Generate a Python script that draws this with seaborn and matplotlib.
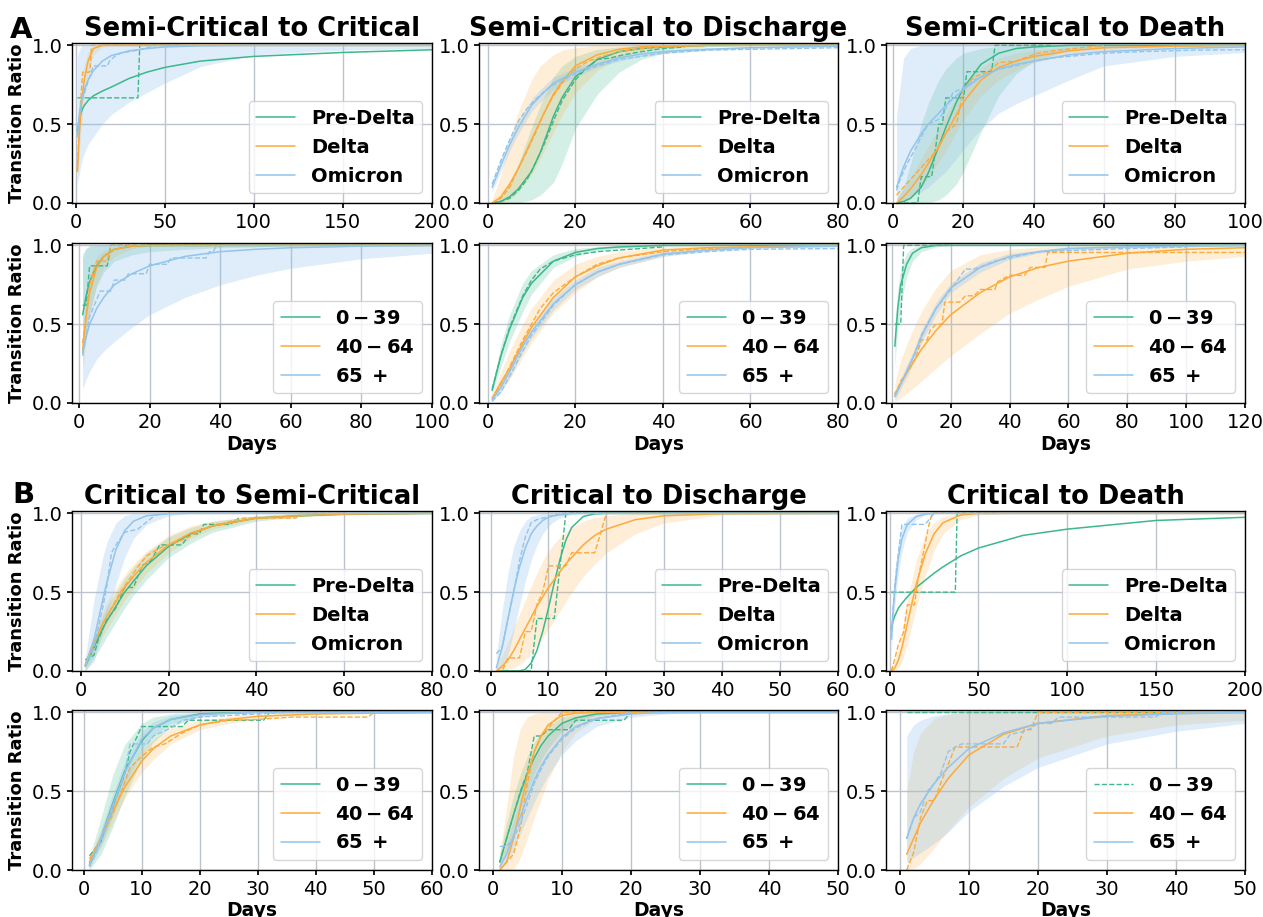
import matplotlib
matplotlib.use("Agg")
import matplotlib.pyplot as plt
from matplotlib.ticker import MultipleLocator
import seaborn as sns

# ---------------- text ----------------
titles_top = ["Semi-Critical to Critical", "Semi-Critical to Discharge", "Semi-Critical to Death"]
titles_bottom = ["Critical to Semi-Critical", "Critical to Discharge", "Critical to Death"]
variant_labels = ["Pre-Delta", "Delta", "Omicron"]
age_labels = [r"$\mathbf{0-39}$", r"$\mathbf{40-64}$", r"$\mathbf{65\;+}$"]
y_ticks = [0.0, 0.5, 1.0]
x_max = [200, 80, 100, 100, 80, 120, 80, 60, 200, 60, 50, 50]
x_step = [50, 20, 20, 20, 20, 20, 20, 10, 50, 10, 10, 10]

# ---------------- Panel 1: Semi-Critical to Critical (variants) ----------------
p1_days = [1, 2, 3, 4, 5, 7, 10, 15, 20, 30, 40, 50, 70, 100, 150, 200]
p1_fit_g = [0.46, 0.53, 0.57, 0.60, 0.62, 0.65, 0.68, 0.71, 0.735, 0.79, 0.83, 0.86, 0.90, 0.93, 0.955, 0.972]
p1_fit_o = [0.20, 0.42, 0.58, 0.70, 0.79, 0.90, 0.98, 1.0, 1.0, 1.0, 1.0, 1.0, 1.0, 1.0, 1.0, 1.0]
p1_fit_b = [0.42, 0.55, 0.63, 0.68, 0.72, 0.78, 0.84, 0.90, 0.935, 0.965, 0.98, 0.99, 0.997, 1.0, 1.0, 1.0]
p1_lo_o = [0.12, 0.30, 0.45, 0.57, 0.67, 0.82, 0.94, 0.99, 1.0, 1.0, 1.0, 1.0, 1.0, 1.0, 1.0, 1.0]
p1_hi_o = [0.30, 0.55, 0.70, 0.80, 0.88, 0.96, 0.995, 1.0, 1.0, 1.0, 1.0, 1.0, 1.0, 1.0, 1.0, 1.0]
p1_lo_b = [0.12, 0.18, 0.24, 0.29, 0.32, 0.37, 0.42, 0.50, 0.56, 0.64, 0.70, 0.76, 0.865, 0.94, 0.97, 0.98]
p1_hi_b = [0.93, 0.97, 0.99, 1.0, 1.0, 1.0, 1.0, 1.0, 1.0, 1.0, 1.0, 1.0, 1.0, 1.0, 1.0, 1.0]
p1_emp_g_x = [1, 35, 36, 60]
p1_emp_g_y = [0.667, 0.667, 1.0, 1.0]
p1_emp_o_x = [1, 2, 3, 4, 8, 9, 40]
p1_emp_o_y = [0.2, 0.5, 0.67, 0.83, 0.83, 1.0, 1.0]
p1_emp_b_x = [1, 2, 3, 5, 7, 10, 18, 19, 22, 25, 35, 45]
p1_emp_b_y = [0.42, 0.55, 0.62, 0.70, 0.77, 0.87, 0.87, 0.90, 0.93, 0.95, 0.97, 1.0]

# ---------------- Panel 2: Semi-Critical to Discharge (variants) ----------------
p2_days = [1, 3, 5, 7, 10, 12, 15, 17, 20, 25, 30, 35, 40, 50, 60, 80]
p2_fit_g = [0.0, 0.01, 0.04, 0.09, 0.20, 0.32, 0.55, 0.67, 0.80, 0.91, 0.96, 0.98, 0.99, 1.0, 1.0, 1.0]
p2_lo_g = [0.0, 0.0, 0.0, 0.0, 0.02, 0.05, 0.13, 0.25, 0.47, 0.69, 0.83, 0.91, 0.95, 0.99, 1.0, 1.0]
p2_hi_g = [0.0, 0.04, 0.12, 0.25, 0.48, 0.62, 0.80, 0.87, 0.93, 0.975, 0.99, 1.0, 1.0, 1.0, 1.0, 1.0]
p2_fit_o = [0.0, 0.04, 0.12, 0.22, 0.40, 0.52, 0.69, 0.77, 0.87, 0.94, 0.975, 0.99, 0.995, 1.0, 1.0, 1.0]
p2_lo_o = [0.0, 0.0, 0.02, 0.07, 0.18, 0.28, 0.45, 0.56, 0.70, 0.84, 0.92, 0.96, 0.98, 1.0, 1.0, 1.0]
p2_hi_o = [0.02, 0.18, 0.40, 0.58, 0.78, 0.87, 0.94, 0.97, 0.985, 1.0, 1.0, 1.0, 1.0, 1.0, 1.0, 1.0]
p2_fit_b = [0.10, 0.24, 0.37, 0.48, 0.62, 0.68, 0.76, 0.79, 0.83, 0.88, 0.92, 0.945, 0.96, 0.975, 0.985, 0.995]
p2_lo_b = [0.07, 0.20, 0.33, 0.44, 0.58, 0.64, 0.72, 0.76, 0.80, 0.86, 0.90, 0.93, 0.95, 0.965, 0.98, 0.99]
p2_hi_b = [0.13, 0.28, 0.41, 0.52, 0.66, 0.72, 0.80, 0.82, 0.86, 0.90, 0.94, 0.96, 0.97, 0.985, 0.99, 1.0]
p2_emp_g_x = [1, 3, 5, 7, 9, 11, 13, 15, 17, 20, 22, 25, 28, 31, 35, 40, 45]
p2_emp_g_y = [0.0, 0.01, 0.03, 0.08, 0.15, 0.26, 0.38, 0.52, 0.65, 0.78, 0.84, 0.91, 0.92, 0.94, 0.96, 0.98, 0.99]
p2_emp_o_x = [1, 3, 5, 7, 9, 11, 13, 15, 18, 20, 23, 26, 30, 35, 40, 50]
p2_emp_o_y = [0.0, 0.03, 0.10, 0.22, 0.33, 0.45, 0.58, 0.68, 0.80, 0.85, 0.90, 0.93, 0.96, 0.98, 0.99, 1.0]
p2_emp_b_x = [1, 3, 5, 7, 9, 11, 13, 15, 18, 20, 25, 30, 35, 40, 50, 60, 80]
p2_emp_b_y = [0.12, 0.27, 0.40, 0.52, 0.60, 0.66, 0.71, 0.75, 0.79, 0.82, 0.87, 0.91, 0.93, 0.95, 0.97, 0.975, 0.985]

# ---------------- Panel 3: Semi-Critical to Death (variants) ----------------
p3_days = [1, 3, 5, 8, 10, 13, 15, 18, 20, 25, 30, 35, 40, 50, 60, 80, 100]
p3_fit_g = [0.0, 0.01, 0.03, 0.10, 0.19, 0.36, 0.48, 0.64, 0.73, 0.88, 0.95, 0.98, 0.99, 1.0, 1.0, 1.0, 1.0]
p3_lo_g = [0.0, 0.0, 0.0, 0.0, 0.0, 0.02, 0.05, 0.12, 0.20, 0.45, 0.68, 0.82, 0.90, 0.97, 0.99, 1.0, 1.0]
p3_hi_g = [0.02, 0.10, 0.25, 0.50, 0.63, 0.78, 0.85, 0.92, 0.95, 0.98, 0.995, 1.0, 1.0, 1.0, 1.0, 1.0, 1.0]
p3_fit_o = [0.0, 0.04, 0.09, 0.18, 0.25, 0.36, 0.44, 0.56, 0.64, 0.78, 0.86, 0.90, 0.93, 0.965, 0.985, 0.995, 1.0]
p3_lo_o = [0.0, 0.01, 0.04, 0.10, 0.16, 0.26, 0.33, 0.45, 0.53, 0.68, 0.78, 0.84, 0.89, 0.94, 0.97, 0.99, 1.0]
p3_hi_o = [0.03, 0.09, 0.16, 0.28, 0.36, 0.48, 0.56, 0.67, 0.74, 0.86, 0.92, 0.95, 0.97, 0.99, 1.0, 1.0, 1.0]
p3_fit_b = [0.10, 0.23, 0.33, 0.44, 0.50, 0.57, 0.62, 0.68, 0.72, 0.80, 0.85, 0.88, 0.90, 0.94, 0.96, 0.98, 0.99]
p3_lo_b = [0.0, 0.02, 0.04, 0.07, 0.10, 0.16, 0.20, 0.28, 0.34, 0.47, 0.57, 0.63, 0.68, 0.78, 0.87, 0.93, 0.955]
p3_hi_b = [0.55, 0.92, 0.98, 1.0, 1.0, 1.0, 1.0, 1.0, 1.0, 1.0, 1.0, 1.0, 1.0, 1.0, 1.0, 1.0, 1.0]
p3_emp_g_x = [1, 7, 8, 11, 12, 13, 14, 15, 20, 21, 28, 29, 45]
p3_emp_g_y = [0.0, 0.0, 0.167, 0.167, 0.333, 0.5, 0.5, 0.667, 0.667, 0.833, 0.833, 1.0, 1.0]
p3_emp_o_x = [1, 3, 5, 7, 9, 11, 13, 15, 18, 20, 23, 27, 30, 35, 41, 47, 60]
p3_emp_o_y = [0.05, 0.10, 0.15, 0.20, 0.25, 0.30, 0.35, 0.45, 0.50, 0.72, 0.80, 0.83, 0.89, 0.90, 0.95, 0.97, 1.0]
p3_emp_b_x = [1, 2, 4, 6, 8, 10, 13, 15, 17, 20, 23, 27, 30, 35, 40, 45, 50, 60, 70, 86, 100]
p3_emp_b_y = [0.08, 0.15, 0.25, 0.33, 0.42, 0.50, 0.53, 0.60, 0.70, 0.73, 0.78, 0.82, 0.85, 0.87, 0.90, 0.92, 0.93, 0.95, 0.96, 0.97, 0.972]

# ---------------- Panel 4: Semi-Critical to Critical (age) ----------------
p4_days = [1, 2, 3, 5, 7, 10, 15, 20, 30, 40, 50, 60, 80, 100]
p4_fit_g = [0.56, 0.68, 0.77, 0.87, 0.93, 0.975, 0.995, 1.0, 1.0, 1.0, 1.0, 1.0, 1.0, 1.0]
p4_lo_g = [0.28, 0.45, 0.58, 0.74, 0.83, 0.90, 0.94, 0.96, 0.975, 0.985, 0.99, 1.0, 1.0, 1.0]
p4_hi_g = [0.92, 0.98, 1.0, 1.0, 1.0, 1.0, 1.0, 1.0, 1.0, 1.0, 1.0, 1.0, 1.0, 1.0]
p4_fit_o = [0.33, 0.55, 0.70, 0.86, 0.93, 0.975, 0.995, 1.0, 1.0, 1.0, 1.0, 1.0, 1.0, 1.0]
p4_lo_o = [0.20, 0.40, 0.55, 0.75, 0.86, 0.93, 0.98, 0.995, 1.0, 1.0, 1.0, 1.0, 1.0, 1.0]
p4_hi_o = [0.45, 0.68, 0.82, 0.93, 0.97, 0.99, 1.0, 1.0, 1.0, 1.0, 1.0, 1.0, 1.0, 1.0]
p4_fit_b = [0.32, 0.42, 0.50, 0.60, 0.67, 0.75, 0.82, 0.87, 0.93, 0.96, 0.975, 0.985, 0.995, 1.0]
p4_lo_b = [0.09, 0.15, 0.20, 0.28, 0.33, 0.39, 0.48, 0.56, 0.67, 0.75, 0.81, 0.855, 0.915, 0.95]
p4_hi_b = [0.95, 0.98, 0.99, 1.0, 1.0, 1.0, 1.0, 1.0, 1.0, 1.0, 1.0, 1.0, 1.0, 1.0]
p4_emp_g_x = [1, 2, 3, 8, 9, 40]
p4_emp_g_y = [0.62, 0.62, 0.87, 0.87, 1.0, 1.0]
p4_emp_o_x = [1, 2, 3, 5, 8, 9, 40]
p4_emp_o_y = [0.38, 0.55, 0.75, 0.90, 0.90, 1.0, 1.0]
p4_emp_b_x = [1, 3, 6, 9, 10, 13, 14, 19, 20, 25, 26, 36, 37, 38, 39, 60]
p4_emp_b_y = [0.30, 0.55, 0.71, 0.71, 0.78, 0.78, 0.82, 0.82, 0.88, 0.88, 0.92, 0.92, 0.96, 0.96, 1.0, 1.0]

# ---------------- Panel 5: Semi-Critical to Discharge (age) ----------------
p5_days = [1, 3, 5, 8, 10, 15, 20, 25, 30, 40, 50, 60, 80]
p5_fit_g = [0.08, 0.30, 0.47, 0.67, 0.76, 0.90, 0.955, 0.98, 0.99, 1.0, 1.0, 1.0, 1.0]
p5_lo_g = [0.06, 0.23, 0.39, 0.58, 0.69, 0.86, 0.93, 0.965, 0.98, 0.995, 1.0, 1.0, 1.0]
p5_hi_g = [0.11, 0.37, 0.56, 0.76, 0.84, 0.94, 0.98, 0.99, 1.0, 1.0, 1.0, 1.0, 1.0]
p5_fit_o = [0.03, 0.13, 0.22, 0.38, 0.48, 0.67, 0.80, 0.87, 0.92, 0.97, 0.985, 0.99, 1.0]
p5_lo_o = [0.02, 0.08, 0.15, 0.29, 0.38, 0.57, 0.70, 0.80, 0.86, 0.93, 0.97, 0.985, 1.0]
p5_hi_o = [0.05, 0.20, 0.33, 0.50, 0.60, 0.78, 0.88, 0.93, 0.96, 0.99, 1.0, 1.0, 1.0]
p5_fit_b = [0.02, 0.10, 0.20, 0.36, 0.45, 0.63, 0.75, 0.83, 0.88, 0.945, 0.97, 0.985, 0.995]
p5_lo_b = [0.01, 0.07, 0.16, 0.32, 0.41, 0.59, 0.72, 0.80, 0.86, 0.93, 0.96, 0.98, 0.99]
p5_hi_b = [0.03, 0.13, 0.24, 0.40, 0.49, 0.67, 0.78, 0.86, 0.90, 0.96, 0.98, 0.99, 1.0]
p5_emp_g_x = [1, 3, 5, 8, 10, 12, 15, 20, 25, 30, 40]
p5_emp_g_y = [0.09, 0.30, 0.48, 0.68, 0.78, 0.85, 0.90, 0.94, 0.96, 0.97, 0.99]
p5_emp_o_x = [1, 3, 5, 8, 10, 12, 15, 20, 25, 30, 40, 50, 60]
p5_emp_o_y = [0.03, 0.12, 0.23, 0.40, 0.50, 0.60, 0.70, 0.80, 0.88, 0.92, 0.96, 0.98, 0.99]
p5_emp_b_x = [1, 3, 5, 8, 10, 15, 20, 25, 30, 40, 50, 60, 80]
p5_emp_b_y = [0.01, 0.07, 0.17, 0.33, 0.43, 0.62, 0.75, 0.83, 0.88, 0.94, 0.96, 0.975, 0.98]

# ---------------- Panel 6: Semi-Critical to Death (age) ----------------
p6_days = [1, 2, 3, 5, 7, 10, 15, 20, 30, 40, 50, 60, 80, 100, 120]
p6_fit_g = [0.36, 0.60, 0.75, 0.88, 0.95, 0.985, 1.0, 1.0, 1.0, 1.0, 1.0, 1.0, 1.0, 1.0, 1.0]
p6_lo_g = [0.24, 0.47, 0.62, 0.80, 0.90, 0.96, 0.99, 1.0, 1.0, 1.0, 1.0, 1.0, 1.0, 1.0, 1.0]
p6_hi_g = [0.50, 0.72, 0.85, 0.95, 0.985, 1.0, 1.0, 1.0, 1.0, 1.0, 1.0, 1.0, 1.0, 1.0, 1.0]
p6_fit_o = [0.06, 0.09, 0.12, 0.19, 0.25, 0.34, 0.46, 0.56, 0.70, 0.80, 0.86, 0.90, 0.95, 0.975, 0.985]
p6_lo_o = [0.01, 0.02, 0.03, 0.06, 0.09, 0.14, 0.22, 0.30, 0.44, 0.57, 0.66, 0.74, 0.85, 0.90, 0.93]
p6_hi_o = [0.12, 0.20, 0.27, 0.37, 0.46, 0.58, 0.73, 0.84, 0.94, 0.975, 0.99, 0.995, 1.0, 1.0, 1.0]
p6_fit_b = [0.04, 0.08, 0.12, 0.20, 0.28, 0.42, 0.60, 0.73, 0.86, 0.93, 0.96, 0.98, 0.99, 0.995, 1.0]
p6_lo_b = [0.02, 0.05, 0.09, 0.16, 0.24, 0.38, 0.56, 0.70, 0.83, 0.91, 0.95, 0.97, 0.985, 0.99, 0.995]
p6_hi_b = [0.06, 0.11, 0.15, 0.24, 0.32, 0.46, 0.64, 0.76, 0.89, 0.95, 0.97, 0.99, 1.0, 1.0, 1.0]
p6_emp_g_x = [1, 3, 4, 20]
p6_emp_g_y = [0.5, 0.5, 1.0, 1.0]
p6_emp_o_x = [1, 3, 5, 8, 10, 12, 13, 15, 17, 18, 23, 25, 28, 30, 35, 36, 40, 45, 47, 52, 53, 120]
p6_emp_o_y = [0.05, 0.14, 0.19, 0.28, 0.40, 0.40, 0.46, 0.50, 0.50, 0.64, 0.64, 0.68, 0.68, 0.72, 0.72, 0.77, 0.81, 0.81, 0.86, 0.86, 0.955, 0.955]
p6_emp_b_x = [1, 3, 5, 8, 10, 15, 20, 25, 28, 35, 40, 50, 80, 100]
p6_emp_b_y = [0.04, 0.12, 0.20, 0.32, 0.43, 0.60, 0.72, 0.85, 0.85, 0.90, 0.92, 0.96, 0.98, 0.99]

# ---------------- Panel 7: Critical to Semi-Critical (variants) ----------------
p7_days = [1, 3, 5, 6, 8, 10, 12, 15, 20, 25, 30, 40, 50, 60, 80]
p7_fit_g = [0.03, 0.15, 0.27, 0.32, 0.41, 0.50, 0.57, 0.67, 0.79, 0.87, 0.92, 0.97, 0.985, 0.995, 1.0]
p7_lo_g = [0.0, 0.08, 0.17, 0.22, 0.31, 0.40, 0.48, 0.58, 0.72, 0.81, 0.88, 0.95, 0.98, 0.99, 1.0]
p7_hi_g = [0.06, 0.22, 0.35, 0.41, 0.50, 0.59, 0.66, 0.75, 0.85, 0.91, 0.95, 0.985, 1.0, 1.0, 1.0]
p7_fit_o = [0.04, 0.17, 0.30, 0.35, 0.44, 0.53, 0.60, 0.69, 0.80, 0.875, 0.92, 0.97, 0.985, 0.995, 1.0]
p7_lo_o = [0.01, 0.11, 0.22, 0.27, 0.36, 0.45, 0.52, 0.62, 0.75, 0.84, 0.90, 0.96, 0.98, 0.99, 1.0]
p7_hi_o = [0.07, 0.23, 0.38, 0.44, 0.53, 0.61, 0.68, 0.76, 0.86, 0.92, 0.95, 0.985, 1.0, 1.0, 1.0]
p7_fit_b = [0.03, 0.20, 0.45, 0.57, 0.77, 0.89, 0.95, 0.985, 0.998, 1.0, 1.0, 1.0, 1.0, 1.0, 1.0]
p7_lo_b = [0.0, 0.06, 0.25, 0.35, 0.55, 0.72, 0.84, 0.93, 0.985, 1.0, 1.0, 1.0, 1.0, 1.0, 1.0]
p7_hi_b = [0.08, 0.45, 0.72, 0.82, 0.94, 0.985, 1.0, 1.0, 1.0, 1.0, 1.0, 1.0, 1.0, 1.0, 1.0]
p7_emp_g_x = [1, 3, 4, 6, 8, 10, 12, 14, 16, 18, 23, 25, 27, 28, 34, 36]
p7_emp_g_y = [0.07, 0.10, 0.20, 0.33, 0.40, 0.53, 0.53, 0.67, 0.70, 0.80, 0.80, 0.87, 0.87, 0.93, 0.93, 0.97]
p7_emp_o_x = [1, 3, 5, 7, 9, 11, 13, 15, 18, 20, 24, 27, 30, 37, 49, 50, 60]
p7_emp_o_y = [0.04, 0.18, 0.30, 0.40, 0.50, 0.58, 0.66, 0.73, 0.78, 0.80, 0.84, 0.89, 0.92, 0.97, 0.97, 1.0, 1.0]
p7_emp_b_x = [1, 3, 5, 6, 7, 8, 10, 13, 17, 20]
p7_emp_b_y = [0.03, 0.15, 0.40, 0.55, 0.75, 0.80, 0.88, 0.90, 0.99, 1.0]

# ---------------- Panel 8: Critical to Discharge (variants) ----------------
p8_days = [1, 2, 3, 4, 5, 6, 7, 8, 9, 10, 11, 12, 13, 14, 16, 18, 20, 25, 30, 40, 60]
p8_fit_g = [0.0, 0.0, 0.0, 0.0, 0.0, 0.01, 0.05, 0.13, 0.25, 0.40, 0.56, 0.71, 0.83, 0.91, 0.98, 0.997, 1.0, 1.0, 1.0, 1.0, 1.0]
p8_fit_o = [0.0, 0.03, 0.07, 0.13, 0.20, 0.27, 0.34, 0.41, 0.47, 0.53, 0.58, 0.63, 0.68, 0.72, 0.80, 0.86, 0.90, 0.96, 0.985, 0.998, 1.0]
p8_lo_o = [0.0, 0.0, 0.01, 0.02, 0.04, 0.07, 0.11, 0.16, 0.21, 0.27, 0.32, 0.38, 0.44, 0.50, 0.60, 0.68, 0.75, 0.87, 0.94, 0.99, 1.0]
p8_hi_o = [0.02, 0.10, 0.18, 0.27, 0.36, 0.45, 0.54, 0.62, 0.70, 0.76, 0.81, 0.85, 0.88, 0.91, 0.95, 0.975, 0.985, 1.0, 1.0, 1.0, 1.0]
p8_fit_b = [0.02, 0.15, 0.33, 0.51, 0.66, 0.78, 0.87, 0.92, 0.955, 0.975, 0.985, 0.99, 0.995, 1.0, 1.0, 1.0, 1.0, 1.0, 1.0, 1.0, 1.0]
p8_lo_b = [0.0, 0.02, 0.10, 0.25, 0.42, 0.57, 0.70, 0.80, 0.87, 0.92, 0.95, 0.97, 0.985, 0.99, 1.0, 1.0, 1.0, 1.0, 1.0, 1.0, 1.0]
p8_hi_b = [0.10, 0.38, 0.62, 0.79, 0.89, 0.95, 0.98, 0.99, 1.0, 1.0, 1.0, 1.0, 1.0, 1.0, 1.0, 1.0, 1.0, 1.0, 1.0, 1.0, 1.0]
p8_emp_g_x = [1, 7, 8, 11, 12, 13, 20]
p8_emp_g_y = [0.0, 0.0, 0.333, 0.333, 0.667, 1.0, 1.0]
p8_emp_o_x = [1, 2, 3, 5, 6, 7, 8, 9, 10, 13, 14, 18, 20, 30]
p8_emp_o_y = [0.0, 0.0, 0.083, 0.083, 0.25, 0.25, 0.42, 0.50, 0.667, 0.667, 0.75, 0.75, 1.0, 1.0]
p8_emp_b_x = [1, 2, 3, 4, 5, 6, 7, 8, 10, 12, 15]
p8_emp_b_y = [0.11, 0.15, 0.33, 0.50, 0.70, 0.85, 0.94, 0.96, 0.98, 1.0, 1.0]

# ---------------- Panel 9: Critical to Death (variants) ----------------
p9_days = [1, 2, 3, 5, 7, 10, 15, 20, 25, 30, 40, 50, 75, 100, 150, 200]
p9_fit_g = [0.27, 0.32, 0.35, 0.40, 0.43, 0.47, 0.53, 0.575, 0.62, 0.66, 0.73, 0.78, 0.86, 0.90, 0.955, 0.975]
p9_fit_o = [0.0, 0.01, 0.02, 0.07, 0.15, 0.30, 0.55, 0.74, 0.87, 0.94, 0.99, 1.0, 1.0, 1.0, 1.0, 1.0]
p9_lo_o = [0.0, 0.0, 0.0, 0.02, 0.06, 0.17, 0.40, 0.60, 0.76, 0.87, 0.96, 0.99, 1.0, 1.0, 1.0, 1.0]
p9_hi_o = [0.02, 0.04, 0.07, 0.15, 0.26, 0.45, 0.70, 0.86, 0.94, 0.98, 1.0, 1.0, 1.0, 1.0, 1.0, 1.0]
p9_fit_b = [0.20, 0.38, 0.52, 0.72, 0.84, 0.93, 0.98, 0.995, 1.0, 1.0, 1.0, 1.0, 1.0, 1.0, 1.0, 1.0]
p9_lo_b = [0.12, 0.28, 0.42, 0.62, 0.76, 0.88, 0.96, 0.99, 1.0, 1.0, 1.0, 1.0, 1.0, 1.0, 1.0, 1.0]
p9_hi_b = [0.30, 0.50, 0.64, 0.82, 0.91, 0.97, 0.995, 1.0, 1.0, 1.0, 1.0, 1.0, 1.0, 1.0, 1.0, 1.0]
p9_emp_g_x = [1, 37, 38, 60]
p9_emp_g_y = [0.5, 0.5, 1.0, 1.0]
p9_emp_o_x = [1, 3, 5, 8, 10, 14, 16, 19, 22, 24, 50]
p9_emp_o_y = [0.0, 0.08, 0.17, 0.25, 0.42, 0.42, 0.58, 0.75, 0.92, 1.0, 1.0]
p9_emp_b_x = [1, 2, 3, 5, 7, 20, 23, 25]
p9_emp_b_y = [0.20, 0.40, 0.55, 0.75, 0.93, 0.93, 0.97, 1.0]

# ---------------- Panel 10: Critical to Semi-Critical (age) ----------------
p10_days = [1, 3, 5, 7, 10, 12, 15, 20, 25, 30, 40, 60]
p10_fit_g = [0.03, 0.20, 0.42, 0.62, 0.82, 0.90, 0.955, 0.99, 0.997, 1.0, 1.0, 1.0]
p10_lo_g = [0.0, 0.10, 0.27, 0.46, 0.70, 0.81, 0.91, 0.97, 0.99, 1.0, 1.0, 1.0]
p10_hi_g = [0.08, 0.33, 0.60, 0.79, 0.93, 0.97, 0.99, 1.0, 1.0, 1.0, 1.0, 1.0]
p10_fit_o = [0.05, 0.20, 0.37, 0.52, 0.69, 0.77, 0.85, 0.92, 0.955, 0.975, 0.99, 1.0]
p10_lo_o = [0.03, 0.15, 0.30, 0.45, 0.62, 0.70, 0.80, 0.89, 0.93, 0.96, 0.985, 1.0]
p10_hi_o = [0.08, 0.25, 0.44, 0.59, 0.76, 0.83, 0.90, 0.95, 0.975, 0.99, 1.0, 1.0]
p10_fit_b = [0.03, 0.20, 0.41, 0.61, 0.83, 0.90, 0.955, 0.985, 0.995, 1.0, 1.0, 1.0]
p10_lo_b = [0.01, 0.15, 0.34, 0.53, 0.76, 0.85, 0.93, 0.97, 0.99, 1.0, 1.0, 1.0]
p10_hi_b = [0.05, 0.26, 0.48, 0.68, 0.88, 0.94, 0.98, 0.995, 1.0, 1.0, 1.0, 1.0]
p10_emp_g_x = [1, 3, 5, 7, 8, 10, 17, 18, 31, 32, 60]
p10_emp_g_y = [0.09, 0.18, 0.40, 0.60, 0.75, 0.91, 0.91, 0.95, 0.95, 1.0, 1.0]
p10_emp_o_x = [1, 3, 5, 7, 8, 10, 12, 14, 17, 20, 25, 30, 36, 49, 50, 60]
p10_emp_o_y = [0.07, 0.20, 0.35, 0.55, 0.65, 0.72, 0.78, 0.80, 0.87, 0.92, 0.95, 0.955, 0.97, 0.97, 1.0, 1.0]
p10_emp_b_x = [1, 3, 5, 7, 8, 11, 12, 15, 17, 20, 25, 30, 35]
p10_emp_b_y = [0.02, 0.18, 0.38, 0.60, 0.80, 0.80, 0.85, 0.90, 0.95, 0.97, 0.98, 0.99, 1.0]

# ---------------- Panel 11: Critical to Discharge (age) ----------------
p11_days = [1, 2, 3, 4, 5, 6, 7, 8, 10, 12, 15, 20, 25, 30, 50]
p11_fit_g = [0.05, 0.20, 0.35, 0.49, 0.61, 0.71, 0.79, 0.85, 0.93, 0.965, 0.99, 1.0, 1.0, 1.0, 1.0]
p11_lo_g = [0.02, 0.12, 0.25, 0.38, 0.50, 0.61, 0.70, 0.77, 0.88, 0.94, 0.98, 1.0, 1.0, 1.0, 1.0]
p11_hi_g = [0.10, 0.30, 0.47, 0.61, 0.72, 0.81, 0.87, 0.91, 0.97, 0.99, 1.0, 1.0, 1.0, 1.0, 1.0]
p11_fit_o = [0.0, 0.05, 0.20, 0.40, 0.60, 0.75, 0.85, 0.92, 0.98, 0.995, 1.0, 1.0, 1.0, 1.0, 1.0]
p11_lo_o = [0.0, 0.0, 0.0, 0.08, 0.20, 0.33, 0.45, 0.57, 0.75, 0.87, 0.96, 0.99, 1.0, 1.0, 1.0]
p11_hi_o = [0.10, 0.40, 0.72, 0.90, 0.97, 0.99, 1.0, 1.0, 1.0, 1.0, 1.0, 1.0, 1.0, 1.0, 1.0]
p11_fit_b = [0.02, 0.10, 0.22, 0.34, 0.46, 0.57, 0.66, 0.73, 0.84, 0.91, 0.96, 0.99, 1.0, 1.0, 1.0]
p11_lo_b = [0.0, 0.05, 0.13, 0.23, 0.33, 0.43, 0.52, 0.60, 0.73, 0.82, 0.91, 0.97, 0.99, 1.0, 1.0]
p11_hi_b = [0.05, 0.17, 0.32, 0.46, 0.59, 0.70, 0.78, 0.85, 0.93, 0.97, 0.99, 1.0, 1.0, 1.0, 1.0]
p11_emp_g_x = [1, 2, 3, 4, 5, 6, 7, 8, 11, 12, 19, 20, 30]
p11_emp_g_y = [0.05, 0.20, 0.35, 0.50, 0.62, 0.85, 0.85, 0.89, 0.89, 0.95, 0.95, 1.0, 1.0]
p11_emp_o_x = [1, 2, 3, 4, 5, 6, 7, 9, 10, 20]
p11_emp_o_y = [0.0, 0.05, 0.10, 0.27, 0.55, 0.75, 0.85, 0.95, 1.0, 1.0]
p11_emp_b_x = [1, 2, 3, 4, 5, 6, 7, 8, 10, 12, 15, 20]
p11_emp_b_y = [0.15, 0.15, 0.20, 0.30, 0.42, 0.55, 0.64, 0.72, 0.83, 0.90, 0.96, 1.0]

# ---------------- Panel 12: Critical to Death (age) ----------------
p12_days = [1, 2, 3, 5, 7, 10, 15, 20, 30, 40, 50]
p12_fit_o = [0.10, 0.20, 0.30, 0.45, 0.58, 0.73, 0.86, 0.93, 0.98, 0.995, 1.0]
p12_lo_o = [0.0, 0.01, 0.04, 0.14, 0.25, 0.40, 0.58, 0.71, 0.85, 0.92, 0.95]
p12_hi_o = [0.50, 0.75, 0.87, 0.96, 0.99, 1.0, 1.0, 1.0, 1.0, 1.0, 1.0]
p12_fit_b = [0.20, 0.33, 0.42, 0.55, 0.65, 0.77, 0.87, 0.93, 0.975, 0.99, 1.0]
p12_lo_b = [0.05, 0.08, 0.11, 0.17, 0.24, 0.37, 0.53, 0.65, 0.80, 0.88, 0.93]
p12_hi_b = [0.85, 0.92, 0.95, 0.98, 0.99, 1.0, 1.0, 1.0, 1.0, 1.0, 1.0]
p12_emp_g_x = [1, 50]
p12_emp_g_y = [1.0, 1.0]
p12_emp_o_x = [1, 2, 3, 4, 5, 6, 7, 8, 17, 18, 19, 20, 50]
p12_emp_o_y = [0.0, 0.11, 0.33, 0.44, 0.44, 0.56, 0.67, 0.78, 0.78, 0.89, 0.89, 1.0, 1.0]
p12_emp_b_x = [1, 2, 3, 4, 5, 6, 7, 8, 9, 15, 16, 18, 19, 20, 22, 23, 37, 38, 50]
p12_emp_b_y = [0.20, 0.33, 0.37, 0.50, 0.55, 0.62, 0.75, 0.78, 0.80, 0.80, 0.86, 0.88, 0.90, 0.93, 0.93, 0.97, 0.97, 1.0, 1.0]

# ---------------- styling ----------------
colors = ["#3cb88a", "#fdaa3a", "#92c4ec"]
band_alpha = [0.22, 0.2, 0.3]

sns.set_theme(style="whitegrid", rc={
    "axes.edgecolor": "black",
    "axes.linewidth": 1.0,
    "grid.color": "#bcc3cf",
    "grid.linewidth": 1.0,
    "xtick.bottom": True,
    "ytick.left": True,
    "xtick.color": "black",
    "ytick.color": "black",
    "text.color": "black",
    "axes.labelcolor": "black",
    "xtick.major.size": 3.5,
    "ytick.major.size": 3.5,
    "xtick.labelsize": 14,
    "ytick.labelsize": 14,
    "legend.frameon": True,
})
plt.rcParams["font.family"] = ["DejaVu Sans"]

panels = [
    (p1_days, [p1_fit_g, p1_fit_o, p1_fit_b], [None, p1_lo_o, p1_lo_b], [None, p1_hi_o, p1_hi_b],
     [(p1_emp_g_x, p1_emp_g_y), (p1_emp_o_x, p1_emp_o_y), (p1_emp_b_x, p1_emp_b_y)]),
    (p2_days, [p2_fit_g, p2_fit_o, p2_fit_b], [p2_lo_g, p2_lo_o, p2_lo_b], [p2_hi_g, p2_hi_o, p2_hi_b],
     [(p2_emp_g_x, p2_emp_g_y), (p2_emp_o_x, p2_emp_o_y), (p2_emp_b_x, p2_emp_b_y)]),
    (p3_days, [p3_fit_g, p3_fit_o, p3_fit_b], [p3_lo_g, p3_lo_o, p3_lo_b], [p3_hi_g, p3_hi_o, p3_hi_b],
     [(p3_emp_g_x, p3_emp_g_y), (p3_emp_o_x, p3_emp_o_y), (p3_emp_b_x, p3_emp_b_y)]),
    (p4_days, [p4_fit_g, p4_fit_o, p4_fit_b], [p4_lo_g, p4_lo_o, p4_lo_b], [p4_hi_g, p4_hi_o, p4_hi_b],
     [(p4_emp_g_x, p4_emp_g_y), (p4_emp_o_x, p4_emp_o_y), (p4_emp_b_x, p4_emp_b_y)]),
    (p5_days, [p5_fit_g, p5_fit_o, p5_fit_b], [p5_lo_g, p5_lo_o, p5_lo_b], [p5_hi_g, p5_hi_o, p5_hi_b],
     [(p5_emp_g_x, p5_emp_g_y), (p5_emp_o_x, p5_emp_o_y), (p5_emp_b_x, p5_emp_b_y)]),
    (p6_days, [p6_fit_g, p6_fit_o, p6_fit_b], [p6_lo_g, p6_lo_o, p6_lo_b], [p6_hi_g, p6_hi_o, p6_hi_b],
     [(p6_emp_g_x, p6_emp_g_y), (p6_emp_o_x, p6_emp_o_y), (p6_emp_b_x, p6_emp_b_y)]),
    (p7_days, [p7_fit_g, p7_fit_o, p7_fit_b], [p7_lo_g, p7_lo_o, p7_lo_b], [p7_hi_g, p7_hi_o, p7_hi_b],
     [(p7_emp_g_x, p7_emp_g_y), (p7_emp_o_x, p7_emp_o_y), (p7_emp_b_x, p7_emp_b_y)]),
    (p8_days, [p8_fit_g, p8_fit_o, p8_fit_b], [None, p8_lo_o, p8_lo_b], [None, p8_hi_o, p8_hi_b],
     [(p8_emp_g_x, p8_emp_g_y), (p8_emp_o_x, p8_emp_o_y), (p8_emp_b_x, p8_emp_b_y)]),
    (p9_days, [p9_fit_g, p9_fit_o, p9_fit_b], [None, p9_lo_o, p9_lo_b], [None, p9_hi_o, p9_hi_b],
     [(p9_emp_g_x, p9_emp_g_y), (p9_emp_o_x, p9_emp_o_y), (p9_emp_b_x, p9_emp_b_y)]),
    (p10_days, [p10_fit_g, p10_fit_o, p10_fit_b], [p10_lo_g, p10_lo_o, p10_lo_b], [p10_hi_g, p10_hi_o, p10_hi_b],
     [(p10_emp_g_x, p10_emp_g_y), (p10_emp_o_x, p10_emp_o_y), (p10_emp_b_x, p10_emp_b_y)]),
    (p11_days, [p11_fit_g, p11_fit_o, p11_fit_b], [p11_lo_g, p11_lo_o, p11_lo_b], [p11_hi_g, p11_hi_o, p11_hi_b],
     [(p11_emp_g_x, p11_emp_g_y), (p11_emp_o_x, p11_emp_o_y), (p11_emp_b_x, p11_emp_b_y)]),
    (p12_days, [None, p12_fit_o, p12_fit_b], [None, p12_lo_o, p12_lo_b], [None, p12_hi_o, p12_hi_b],
     [(p12_emp_g_x, p12_emp_g_y), (p12_emp_o_x, p12_emp_o_y), (p12_emp_b_x, p12_emp_b_y)]),
]

W, H = 1263, 917
fig = plt.figure(figsize=(W / 100, H / 100), dpi=100)
col_left = [72, 479, 886]
col_width = [360, 359, 359]
row_top = [43, 243, 511, 710]
ax_h = 160

for k, (days, fits, los, his, emps) in enumerate(panels):
    r, c = divmod(k, 3)
    ax = fig.add_axes([col_left[c] / W, 1 - (row_top[r] + ax_h) / H, col_width[c] / W, ax_h / H])
    labels = variant_labels if r in (0, 2) else age_labels
    for i in range(3):
        if los[i] is not None:
            ax.fill_between(days, los[i], his[i], color=colors[i], alpha=band_alpha[i], lw=0)
    for i in range(3):
        ex, ey = emps[i]
        if fits[i] is not None:
            sns.lineplot(x=days, y=fits[i], ax=ax, color=colors[i], lw=1.1,
                         label=labels[i], estimator=None, sort=False)
            sns.lineplot(x=ex, y=ey, ax=ax, color=colors[i], lw=1.0, linestyle="--",
                         estimator=None, sort=False)
        else:
            sns.lineplot(x=ex, y=ey, ax=ax, color=colors[i], lw=1.0, linestyle="--",
                         estimator=None, sort=False, label=labels[i])
    ax.set_xlim(-2, x_max[k])
    ax.xaxis.set_major_locator(MultipleLocator(x_step[k]))
    ax.set_ylim(0, 1.015)
    ax.set_yticks(y_ticks)
    ax.grid(True)
    ax.set_xlabel("Days" if r in (1, 3) else "", fontsize=13.5, fontweight="bold", labelpad=2)
    ax.set_ylabel("Transition Ratio" if c == 0 else "", fontsize=13, fontweight="bold")
    if r == 0:
        ax.set_title(titles_top[c], fontsize=18.5, fontweight="bold", pad=5)
    if r == 2:
        ax.set_title(titles_bottom[c], fontsize=18.5, fontweight="bold", pad=5)
    ax.legend(loc="lower right", prop={"weight": "bold", "size": 14})

fig.text(0.008, 1 - 38 / H, "A", fontsize=21, fontweight="bold", ha="left", va="baseline")
fig.text(0.010, 1 - 503 / H, "B", fontsize=21, fontweight="bold", ha="left", va="baseline")

fig.savefig("out.png", dpi=100)
